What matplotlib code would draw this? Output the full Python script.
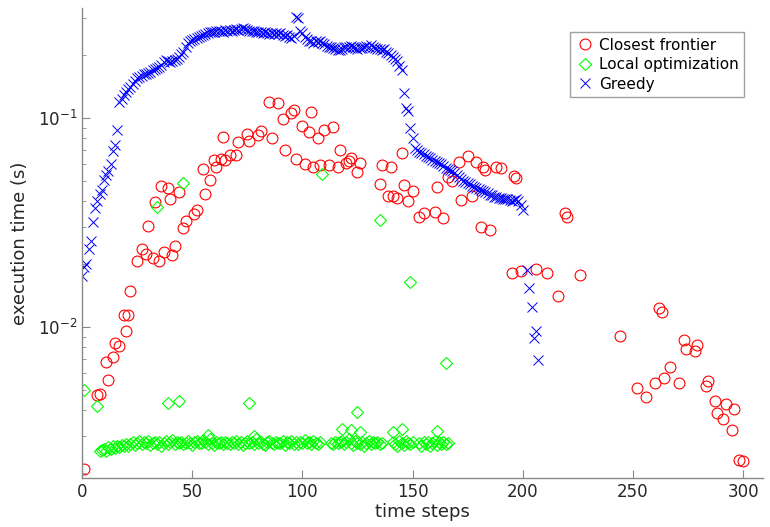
import numpy as np
import matplotlib
matplotlib.use("Agg")
import matplotlib.pyplot as plt
from matplotlib.ticker import LogLocator, NullFormatter

# Closest frontier (time step, execution time in s)
closest_t = [1, 7, 8, 12, 11, 14, 15, 17, 20, 19, 21, 22, 25, 27, 29, 32, 35, 37,
             41, 42, 30, 33, 36, 39, 40, 44, 46, 47, 51, 52, 56, 58, 55, 60, 61,
             63, 64, 65, 67, 70, 71, 75, 76, 80, 81, 86, 85, 89, 91, 92, 96, 95,
             104, 100, 103, 107, 110, 114, 97, 101, 105, 108, 112, 116, 117, 120,
             121, 122, 126, 125, 145, 136, 140, 135, 146, 150, 139, 141, 143, 148,
             153, 155, 160, 164, 161, 166, 168, 171, 175, 172, 177, 179, 182, 183,
             181, 185, 188, 190, 196, 197, 219, 220, 195, 199, 206, 211, 216, 226,
             244, 262, 263, 252, 256, 260, 264, 267, 271, 273, 274, 279, 278, 284,
             283, 287, 288, 292, 291, 296, 295, 298, 300]
closest_s = [0.00208, 0.00471, 0.00480, 0.00555, 0.00677, 0.00716, 0.00838, 0.00807,
             0.00953, 0.01137, 0.01146, 0.0148, 0.0208, 0.0236, 0.0224, 0.0215, 0.0208,
             0.0228, 0.0221, 0.0243, 0.0306, 0.0395, 0.0473, 0.0461, 0.0409, 0.0441,
             0.0297, 0.0323, 0.0347, 0.0362, 0.0433, 0.0505, 0.0572, 0.0627, 0.0586,
             0.0637, 0.0814, 0.0627, 0.0667, 0.0663, 0.0768, 0.0838, 0.0781, 0.0826,
             0.0863, 0.0802, 0.1193, 0.1180, 0.0989, 0.0705, 0.1096, 0.1057, 0.1064,
             0.0919, 0.0857, 0.0807, 0.0879, 0.0911, 0.0637, 0.0604, 0.0586, 0.0598,
             0.0598, 0.0586, 0.0700, 0.0609, 0.0620, 0.0647, 0.0609, 0.0552, 0.0681,
             0.0594, 0.0581, 0.0483, 0.0480, 0.0449, 0.0425, 0.0425, 0.0414, 0.0399,
             0.0336, 0.0351, 0.0355, 0.0332, 0.0466, 0.0520, 0.0501, 0.0614, 0.0661,
             0.0407, 0.0422, 0.0616, 0.0586, 0.0566, 0.0300, 0.0290, 0.0586, 0.0576,
             0.0530, 0.0517, 0.0351, 0.0336, 0.0182, 0.0185, 0.0190, 0.0181, 0.0140,
             0.0177, 0.00908, 0.01233, 0.01180, 0.00510, 0.00462, 0.00540, 0.00570,
             0.00641, 0.00540, 0.00863, 0.00787, 0.00816, 0.00764, 0.00553, 0.00524,
             0.00441, 0.00388, 0.00428, 0.00363, 0.00406, 0.00321, 0.00230, 0.00229]

# Local optimization: the low band, then the scattered outliers
local_t = (list(range(8, 109)) + list(range(113, 137)) + list(range(141, 151))
           + list(range(153, 167))
           + [1, 7, 34, 39, 44, 46, 57, 76, 78, 109, 118, 122, 125, 126, 135, 141,
              145, 149, 161, 165])
local_s = [0.00256, 0.00258, 0.00262, 0.00255, 0.00265, 0.00260, 0.00268, 0.00263,
           0.00270, 0.00266, 0.00272, 0.00268, 0.00274, 0.00270,
           0.00276, 0.00281, 0.00272, 0.00279, 0.00284, 0.00274, 0.00280, 0.00277, 0.00286, 0.00273,
           0.00279, 0.00283, 0.00275, 0.00281, 0.00270, 0.00278, 0.00285, 0.00276, 0.00282, 0.00288,
           0.00274, 0.00280, 0.00277, 0.00283, 0.00275, 0.00279, 0.00286, 0.00278, 0.00272, 0.00281,
           0.00284, 0.00277, 0.00279, 0.00288, 0.00282, 0.00276, 0.00291, 0.00278, 0.00273, 0.00280,
           0.00277, 0.00283, 0.00275, 0.00281, 0.00278, 0.00274, 0.00282, 0.00279, 0.00285, 0.00276,
           0.00280, 0.00273, 0.00278, 0.00284, 0.00277, 0.00281, 0.00275, 0.00292, 0.00279, 0.00283,
           0.00276, 0.00271, 0.00280, 0.00285, 0.00278, 0.00274, 0.00282, 0.00277, 0.00279, 0.00286,
           0.00273, 0.00281, 0.00278, 0.00284, 0.00276, 0.00280, 0.00275, 0.00283, 0.00279, 0.00288,
           0.00277, 0.00281, 0.00274, 0.00285, 0.00278, 0.00276, 0.00282,
           0.00279, 0.00275, 0.00283, 0.00277, 0.00281, 0.00286, 0.00274, 0.00280, 0.00290, 0.00278,
           0.00272, 0.00284, 0.00279, 0.00276, 0.00282, 0.00270, 0.00278, 0.00285, 0.00274, 0.00280,
           0.00277, 0.00283, 0.00275, 0.00279,
           0.00281, 0.00276, 0.00268, 0.00284, 0.00278, 0.00272, 0.00286, 0.00279, 0.00274, 0.00280,
           0.00277, 0.00270, 0.00283, 0.00275, 0.00281, 0.00268, 0.00279, 0.00284, 0.00273, 0.00280,
           0.00276, 0.00282, 0.00274, 0.00279,
           0.00498, 0.00417, 0.0375, 0.00432, 0.00441, 0.0489, 0.00305, 0.00432, 0.00300,
           0.0540, 0.00326, 0.00322, 0.00390, 0.00313, 0.0326, 0.00313, 0.00325, 0.01633,
           0.00317, 0.00673]

# Greedy
greedy_t = list(range(0, 201)) + [202, 203, 204, 205, 206, 207]
greedy_s = [0.0176, 0.0194, 0.0201, 0.0237, 0.0259, 0.0318, 0.0371, 0.0403, 0.0434, 0.0454,
            0.0507, 0.0536, 0.0556, 0.0603, 0.0692, 0.0745, 0.0879, 0.120, 0.124, 0.129,
            0.133, 0.138, 0.141, 0.146, 0.151, 0.155, 0.157, 0.159, 0.162, 0.163,
            0.165, 0.167, 0.169, 0.171, 0.173, 0.176, 0.180, 0.185, 0.190, 0.188,
            0.186, 0.187, 0.190, 0.192, 0.197, 0.203, 0.208, 0.218, 0.228, 0.233,
            0.237, 0.240, 0.242, 0.245, 0.248, 0.251, 0.254, 0.255, 0.257, 0.258,
            0.259, 0.260, 0.261, 0.262, 0.259, 0.263, 0.262, 0.264, 0.261, 0.265,
            0.266, 0.263, 0.268, 0.270, 0.266, 0.264, 0.262, 0.260, 0.262, 0.258,
            0.259, 0.257, 0.256, 0.258, 0.255, 0.254, 0.256, 0.253, 0.255, 0.252,
            0.255, 0.250, 0.248, 0.250, 0.245, 0.243, 0.246, 0.306, 0.302, 0.262,
            0.255, 0.245, 0.238, 0.233, 0.235, 0.230, 0.233, 0.231, 0.233, 0.228,
            0.225, 0.222, 0.220, 0.218, 0.216, 0.214, 0.212, 0.211, 0.215, 0.218,
            0.220, 0.219, 0.221, 0.218, 0.216, 0.214, 0.217, 0.216, 0.218, 0.222,
            0.220, 0.223, 0.220, 0.216, 0.213, 0.215, 0.212, 0.214, 0.208, 0.204,
            0.201, 0.196, 0.192, 0.187, 0.178, 0.170, 0.132, 0.112, 0.108, 0.0896,
            0.0802, 0.0718, 0.0700, 0.0690, 0.0680, 0.0670, 0.0662, 0.0650, 0.0641, 0.0632,
            0.0622, 0.0614, 0.0609, 0.0600, 0.0590, 0.0580, 0.0570, 0.0562, 0.0556, 0.0545,
            0.0535, 0.0522, 0.0512, 0.0502, 0.0495, 0.0490, 0.0481, 0.0472, 0.0468, 0.0461,
            0.0458, 0.0452, 0.0450, 0.0441, 0.0436, 0.0430, 0.0428, 0.0421, 0.0418, 0.0416,
            0.0414, 0.0410, 0.0412, 0.0408, 0.0404, 0.0402, 0.0406, 0.0408, 0.0401, 0.0383,
            0.0364,
            0.0188, 0.0153, 0.0124, 0.00886, 0.00953, 0.00698]

fig = plt.figure(figsize=(7.7, 5.27), dpi=100)
ax = fig.add_axes([0.1065, 0.0936, 0.8844, 0.891])

ax.plot(closest_t, closest_s, "o", mfc="none", mec="red", ms=7.8, mew=0.8,
        label="Closest frontier")
ax.plot(local_t, local_s, "D", mfc="none", mec="#00ff00", ms=6.5, mew=0.8,
        label="Local optimization")
ax.plot(greedy_t, greedy_s, "x", color="blue", ms=6.5, mew=0.7, label="Greedy")

ax.set_yscale("log")
ax.set_xlim(0, 309)
ax.set_ylim(0.0019, 0.336)
ax.set_xticks(np.arange(0, 301, 50))
ax.yaxis.set_major_locator(LogLocator(base=10))
ax.yaxis.set_minor_locator(LogLocator(base=10, subs=np.arange(2, 10)))
ax.yaxis.set_minor_formatter(NullFormatter())

for side in ["top", "right"]:
    ax.spines[side].set_visible(False)
for side in ["left", "bottom"]:
    ax.spines[side].set_color("#888888")
    ax.spines[side].set_linewidth(1.0)

ax.tick_params(which="both", direction="in", colors="#888888", labelcolor="#262626",
               labelsize=12)
ax.tick_params(which="major", length=6)
ax.tick_params(which="minor", length=3)

ax.set_xlabel("time steps", fontsize=13, color="#262626", labelpad=2)
ax.set_ylabel("execution time (s)", fontsize=13, color="#262626", labelpad=6)

leg = ax.legend(loc="upper right", bbox_to_anchor=(0.983, 0.965), fontsize=11,
                frameon=True, fancybox=False, handletextpad=0.3, borderpad=0.35,
                labelspacing=0.3, handlelength=1.2)
leg.get_frame().set_edgecolor("#888888")
leg.get_frame().set_linewidth(1.0)

fig.savefig("out.png", dpi=100)
